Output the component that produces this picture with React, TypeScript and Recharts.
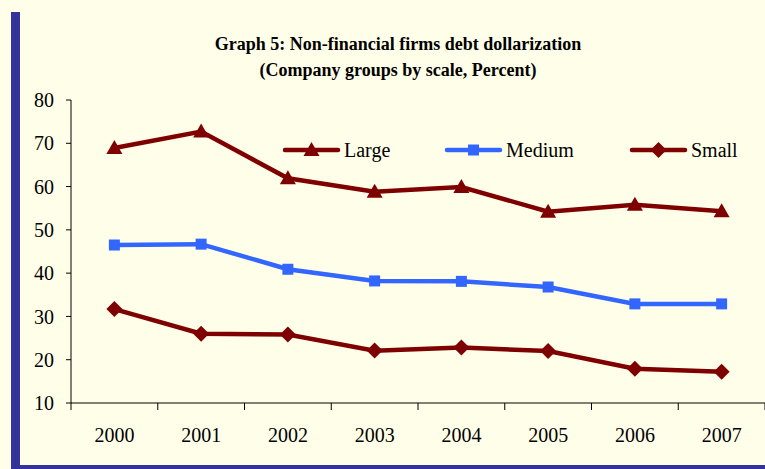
import React from 'react';
import { LineChart, Line, XAxis, YAxis, Legend } from 'recharts';

const years = ['2000', '2001', '2002', '2003', '2004', '2005', '2006', '2007'];
const large = [68.9, 72.7, 61.9, 58.8, 59.9, 54.2, 55.8, 54.3];
const medium = [46.5, 46.7, 40.9, 38.2, 38.1, 36.8, 32.9, 32.9];
const small = [31.7, 26.0, 25.8, 22.1, 22.8, 22.0, 17.9, 17.2];
const yTicks = [10, 20, 30, 40, 50, 60, 70, 80];

const DARK_RED = '#7f0000';
const BLUE = '#3366ff';
const FONT = '"Liberation Serif", "Times New Roman", serif';

// each year sits in the middle of its slot, tick marks go between years
const data = years.map((year, i) => ({
  year,
  pos: i + 0.5,
  large: large[i],
  medium: medium[i],
  small: small[i],
}));
const xTicks = [];
for (let i = 0; i <= years.length * 2; i++) xTicks.push(i / 2);

const Triangle = ({ cx, cy, fill }: any) => (
  <path d={`M${cx},${cy - 8} L${cx + 8},${cy + 6} L${cx - 8},${cy + 6} Z`} fill={fill} />
);
const Square = ({ cx, cy, fill }: any) => (
  <rect x={cx - 5.5} y={cy - 5.5} width={11} height={11} fill={fill} />
);
const Diamond = ({ cx, cy, fill }: any) => (
  <path d={`M${cx},${cy - 8} L${cx + 8},${cy} L${cx},${cy + 8} L${cx - 8},${cy} Z`} fill={fill} />
);

const markers: Record<string, any> = { large: Triangle, medium: Square, small: Diamond };

const XTick = ({ x, y, payload }: any) => {
  const v = payload.value;
  if (Number.isInteger(v)) {
    return <line x1={x} x2={x} y1={y} y2={y + 7} stroke="#000" strokeWidth={1} />;
  }
  const label = years[Math.floor(v)];
  return (
    <text x={x} y={y + 39} textAnchor="middle" fontSize={20} fontFamily={FONT} fill="#000">
      {label}
    </text>
  );
};

const legendOffsets = [0, 162, 347];

const LegendContent = ({ payload }: any) => (
  <svg width={470} height={30}>
    {(payload || []).map((item: any, i: number) => {
      const M = markers[item.dataKey];
      const x0 = legendOffsets[i];
      return (
        <g key={item.dataKey}>
          <line x1={x0 + 2} x2={x0 + 55} y1={15} y2={15} stroke={item.color} strokeWidth={4.5} strokeLinecap="round" />
          <M cx={x0 + 28.5} cy={15} fill={item.color} />
          <text x={x0 + 61} y={22} fontSize={20} fontFamily={FONT} fill="#000">
            {item.value}
          </text>
        </g>
      );
    })}
  </svg>
);

export default function App() {
  return (
    <div style={{ position: 'absolute', left: 0, top: 0, width: 765, height: 469, background: '#ffffe9', overflow: 'hidden' }}>
      <div style={{ position: 'absolute', left: 11, top: 12, width: 9, height: 457, background: '#333399' }} />
      <div style={{ position: 'absolute', left: 11, top: 465, width: 754, height: 4, background: '#333399' }} />
      <div
        style={{
          position: 'absolute',
          left: 148,
          width: 500,
          top: 31,
          textAlign: 'center',
          fontFamily: FONT,
          fontWeight: 'bold',
          fontSize: 18,
          lineHeight: '26px',
          color: '#000',
        }}
      >
        Graph 5: Non-financial firms debt dollarization
        <br />
        (Company groups by scale, Percent)
      </div>
      <LineChart width={765} height={469} data={data} margin={{ top: 70, right: 0, left: 0, bottom: 26 }}>
        <XAxis
          dataKey="pos"
          type="number"
          domain={[0, 8]}
          ticks={xTicks}
          interval={0}
          height={40}
          tickSize={0}
          tickMargin={0}
          tickLine={false}
          axisLine={{ stroke: '#000', strokeWidth: 1 }}
          tick={<XTick />}
        />
        <YAxis
          domain={[10, 80]}
          ticks={yTicks}
          interval={0}
          width={71}
          tickSize={5}
          tickMargin={12}
          axisLine={{ stroke: '#000', strokeWidth: 1 }}
          tickLine={{ stroke: '#000', strokeWidth: 1 }}
          tick={{ fontSize: 20, fontFamily: FONT, fill: '#000' }}
        />
        <Legend
          verticalAlign="top"
          height={30}
          content={<LegendContent />}
          wrapperStyle={{ position: 'absolute', left: 283, top: 135, width: 470, height: 30 }}
        />
        <Line
          dataKey="large"
          name="Large"
          type="linear"
          stroke={DARK_RED}
          strokeWidth={4.5}
          dot={<Triangle fill={DARK_RED} />}
          isAnimationActive={false}
        />
        <Line
          dataKey="medium"
          name="Medium"
          type="linear"
          stroke={BLUE}
          strokeWidth={4.5}
          dot={<Square fill={BLUE} />}
          isAnimationActive={false}
        />
        <Line
          dataKey="small"
          name="Small"
          type="linear"
          stroke={DARK_RED}
          strokeWidth={4.5}
          dot={<Diamond fill={DARK_RED} />}
          isAnimationActive={false}
        />
      </LineChart>
    </div>
  );
}
